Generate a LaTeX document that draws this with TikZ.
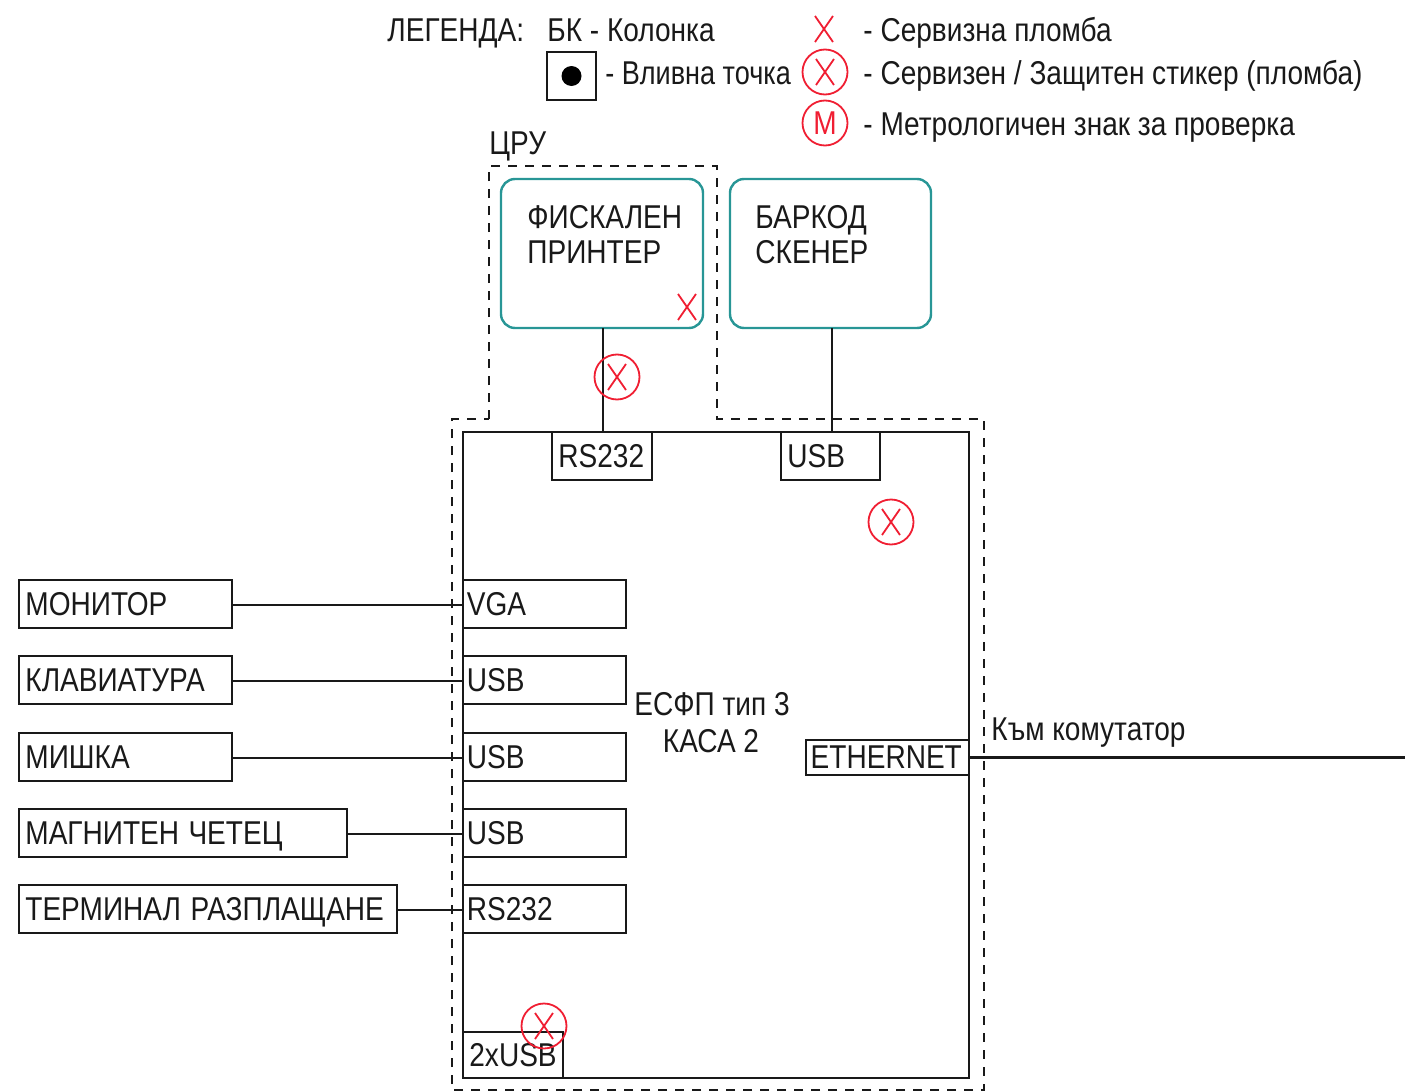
\documentclass[tikz,border=0pt]{standalone}
\usepackage{graphicx}
\usepackage{fontspec}
\setmainfont{Liberation Sans}
\newcommand{\nrw}[1]{\scalebox{.85}[1]{#1}}
\definecolor{teal1}{RGB}{40,150,150}
\definecolor{seal}{RGB}{240,30,50}
\tikzset{
  every node/.style={font=\fontsize{16.5}{20}\selectfont, text=black!90},
  conn/.style={line width=1.35pt, black!90},
  lbl/.style={anchor=base west, inner sep=0pt},
  clbl/.style={anchor=base, inner sep=0pt},
  boxn/.style={draw=black!90, line width=1.35pt, rectangle, anchor=north west, outer sep=0pt, inner xsep=1.5pt, inner ysep=0pt, align=left, text height=11pt, text depth=0pt},
  devbox/.style={draw=teal1, line width=1.2pt, rectangle, rounded corners=7pt, anchor=north west, outer sep=0pt, inner sep=0pt},
  zone/.style={draw=black!90, line width=1.4pt, dash pattern=on 4.5pt off 4pt},
  sealc/.style={draw=seal, circle, line width=.9pt, minimum size=22.5pt, inner sep=0pt, outer sep=0pt, text=seal},
  sealx/.style={draw=seal, line width=.9pt},
}
\newcommand{\pbox}[6]{\node[boxn, minimum width={(#4-#2)*.5pt}, minimum height={(#5-#3)*.5pt}, text width={(#4-#2)*.5pt-3pt}] (#1) at (#2,#3) {\nrw{#6}};}
\newcommand{\sealmark}[3]{\node[sealc] (#1) at (#2,#3) {}; \draw[sealx] ($(#1)+(-9,-13)$) -- ($(#1)+(9,13)$) ($(#1)+(9,-13)$) -- ($(#1)+(-9,13)$);}
\usetikzlibrary{calc}
\begin{document}
\begin{tikzpicture}[x=.5pt,y=-.5pt]
\useasboundingbox (0,0) rectangle (1405,1092);
% zone
\draw[zone] (489,419) -- (489,166) -- (717,166) -- (717,419) -- (984,419) -- (984,1090) -- (452,1090) -- (452,419) -- cycle;
% main
\pbox{main}{463}{432}{969}{1078}{}
\pbox{rsa}{552}{432}{652}{480}{\hspace{2pt}RS232}
\pbox{usbt}{781}{432}{880}{480}{\hspace{2pt}USB}
\pbox{eth}{806}{740}{969}{775}{\hspace{1pt}ETHERNET}
\pbox{usbb}{463}{1032}{563}{1078}{\hspace{2pt}2xUSB}
\pbox{vga}{463}{580}{626}{628}{\hspace{.5pt}VGA}
\pbox{usba}{463}{656}{626}{704}{\hspace{.5pt}USB}
\pbox{usbc}{463}{733}{626}{781}{\hspace{.5pt}USB}
\pbox{usbd}{463}{809}{626}{857}{\hspace{.5pt}USB}
\pbox{rsb}{463}{885}{626}{933}{\hspace{.5pt}RS232}
\pbox{mon}{19}{580}{232}{628}{\hspace{2pt}МОНИТОР}
\pbox{kbd}{19}{656}{232}{704}{\hspace{2pt}КЛАВИАТУРА}
\pbox{mouse}{19}{733}{232}{781}{\hspace{2pt}МИШКА}
\pbox{mag}{19}{809}{347}{857}{\hspace{2pt}МАГНИТЕН ЧЕТЕЦ}
\pbox{term}{19}{885}{397}{933}{\hspace{2pt}ТЕРМИНАЛ РАЗПЛАЩАНЕ}
% devices
\node[devbox, minimum width=101pt, minimum height=74.5pt] (printer) at (501,179) {};
\node[devbox, minimum width=100.5pt, minimum height=74.5pt] (scanner) at (730,179) {};
\node[lbl] (printerA) at (527,228) {\nrw{ФИСКАЛЕН}};
\node[lbl] (printerB) at (527,263) {\nrw{ПРИНТЕР}};
\node[lbl] (scannerA) at (755,228) {\nrw{БАРКОД}};
\node[lbl] (scannerB) at (755,263) {\nrw{СКЕНЕР}};
% connectors
\draw[conn] ([xshift=.5pt]printer.south) -- ([xshift=.5pt]printer.south |- main.north);
\draw[conn] ([xshift=.75pt]scanner.south) -- ([xshift=.75pt]scanner.south |- main.north);
\draw[conn] ([yshift=-.5pt]mon.east) -- ([yshift=-.5pt]vga.west);
\draw[conn] ([yshift=-.5pt]kbd.east) -- ([yshift=-.5pt]usba.west);
\draw[conn] ([yshift=-.5pt]mouse.east) -- ([yshift=-.5pt]usbc.west);
\draw[conn] ([yshift=-.5pt]mag.east) -- ([yshift=-.5pt]usbd.west);
\draw[conn] ([yshift=-.5pt]term.east) -- ([yshift=-.5pt]rsb.west);
\coordinate (sw) at (1405,757.5);
\draw[conn] (eth.east) -- (sw);
% texts
\node[clbl] (t1) at (712,715) {\nrw{ЕСФП тип 3}};
\node[clbl] (t2) at (711,752) {\nrw{КАСА 2}};
\node[lbl] (t3) at (991,740) {\nrw{Към комутатор}};
\node[lbl] (t4) at (489,154) {\nrw{ЦРУ}};
% legend
\node[lbl] (l1) at (387,41) {\nrw{ЛЕГЕНДА:}};
\node[lbl] (l2) at (547,41) {\nrw{БК - Колонка}};
\node[draw=black!90, line width=1.35pt, rectangle, minimum width=24.5pt, minimum height=24pt, inner sep=0pt, outer sep=0pt] (lb) at (571.5,76) {};
\node[fill=black, circle, minimum size=10pt, inner sep=0pt] (ld) at (lb.center) {};
\node[lbl] (l3) at (605,84) {\scalebox{.82}[1]{- Вливна точка}};
\coordinate (lx) at (824,29);
\draw[sealx] ($(lx)+(-9,-13)$) -- ($(lx)+(9,13)$) ($(lx)+(9,-13)$) -- ($(lx)+(-9,13)$);
\node[lbl] (l4) at (863,41) {\nrw{- Сервизна пломба}};
\sealmark{lc}{825}{72}
\node[lbl] (l5) at (863,84) {\nrw{- Сервизен / Защитен стикер (пломба)}};
\node[sealc] (lm) at (825,123) {\nrw{М}};
\node[lbl] (l6) at (863,135) {\nrw{- Метрологичен знак за проверка}};
% seals
\coordinate (px) at (687,307);
\draw[sealx] ($(px)+(-9,-13)$) -- ($(px)+(9,13)$) ($(px)+(9,-13)$) -- ($(px)+(-9,13)$);
\sealmark{sa}{617}{377}
\sealmark{sb}{891}{522}
\sealmark{sc}{544}{1026}
\end{tikzpicture}
\end{document}
